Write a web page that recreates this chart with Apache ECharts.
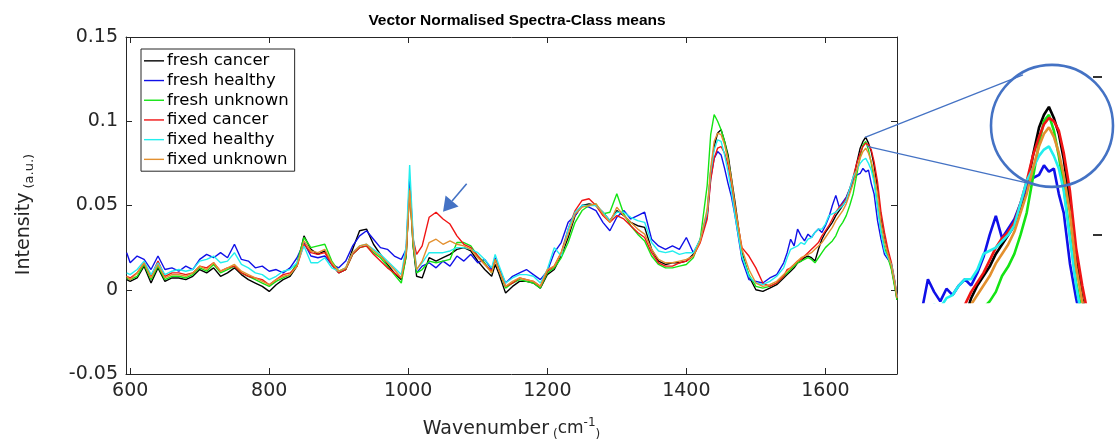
<!DOCTYPE html>
<html><head><meta charset="utf-8">
<script src="https://cdn.jsdelivr.net/npm/echarts@6/dist/echarts.min.js"></script>
<style>html,body{margin:0;padding:0;background:#fff}#c{width:1115px;height:446px}</style>
</head><body><div id="c"></div><script>
const wavenumbers = [
 595,600,610,620,630,640,650,660,670,680,
 690,700,710,720,730,740,750,760,770,780,
 790,800,810,820,830,840,850,860,870,880,
 890,900,910,920,930,940,950,960,970,980,
 990,997,1002,1007,1012,1020,1030,1040,1050,1060,
 1070,1080,1090,1100,1110,1120,1125,1130,1140,1150,
 1160,1170,1180,1190,1200,1210,1220,1230,1240,1250,
 1260,1270,1280,1290,1300,1310,1320,1330,1340,1350,
 1360,1370,1380,1390,1400,1410,1420,1430,1435,1440,
 1445,1450,1455,1460,1465,1470,1480,1490,1500,1510,
 1520,1530,1540,1545,1550,1555,1560,1565,1570,1575,
 1580,1585,1590,1595,1600,1605,1610,1615,1620,1625,
 1630,1635,1640,1645,1650,1654,1658,1662,1666,1670,
 1675,1680,1685,1690,1695,1700,1703];

const freshCancer = [
 0.006,0.005,0.007,0.014,0.004,0.013,0.005,0.007,0.007,0.006,
 0.008,0.012,0.010,0.013,0.008,0.010,0.013,0.009,0.006,0.004,
 0.002,-0.001,0.003,0.006,0.008,0.014,0.032,0.024,0.021,0.023,
 0.015,0.010,0.012,0.024,0.035,0.036,0.027,0.021,0.015,0.010,
 0.006,0.020,0.062,0.026,0.008,0.007,0.019,0.017,0.019,0.021,
 0.024,0.025,0.023,0.017,0.012,0.008,0.015,0.010,-0.002,0.002,
 0.005,0.005,0.004,0.001,0.009,0.012,0.020,0.031,0.044,0.050,
 0.051,0.050,0.046,0.041,0.047,0.044,0.040,0.038,0.037,0.024,
 0.017,0.015,0.016,0.016,0.017,0.021,0.030,0.045,0.070,0.085,
 0.093,0.095,0.088,0.080,0.066,0.052,0.022,0.008,0.000,-0.001,
 0.001,0.003,0.007,0.009,0.011,0.013,0.016,0.017,0.019,0.020,
 0.019,0.017,0.024,0.030,0.034,0.037,0.040,0.044,0.047,0.050,
 0.053,0.059,0.065,0.075,0.084,0.088,0.0905,0.087,0.082,0.074,
 0.060,0.042,0.030,0.021,0.013,0.002,-0.006];

const freshHealthy = [
 0.022,0.016,0.020,0.018,0.012,0.020,0.012,0.013,0.011,0.014,
 0.012,0.018,0.021,0.019,0.022,0.019,0.027,0.018,0.017,0.013,
 0.014,0.011,0.012,0.010,0.013,0.019,0.028,0.020,0.019,0.020,
 0.015,0.013,0.017,0.026,0.032,0.035,0.030,0.025,0.024,0.020,
 0.018,0.024,0.066,0.030,0.010,0.014,0.016,0.013,0.017,0.014,
 0.020,0.017,0.021,0.016,0.018,0.012,0.019,0.013,0.004,0.008,
 0.010,0.012,0.009,0.006,0.011,0.022,0.028,0.040,0.044,0.050,
 0.049,0.047,0.040,0.035,0.043,0.047,0.042,0.044,0.046,0.030,
 0.026,0.024,0.026,0.024,0.031,0.022,0.029,0.044,0.066,0.078,
 0.082,0.080,0.072,0.063,0.055,0.044,0.018,0.006,0.005,0.004,
 0.007,0.009,0.016,0.022,0.030,0.026,0.036,0.032,0.029,0.033,
 0.031,0.034,0.036,0.034,0.038,0.043,0.050,0.056,0.049,0.052,
 0.055,0.060,0.065,0.068,0.069,0.072,0.070,0.071,0.063,0.057,
 0.041,0.030,0.021,0.018,0.015,0.004,-0.004];

const freshUnknown = [
 0.007,0.006,0.008,0.015,0.006,0.014,0.006,0.008,0.008,0.007,
 0.009,0.013,0.011,0.015,0.010,0.012,0.014,0.010,0.008,0.006,
 0.004,0.002,0.005,0.007,0.009,0.016,0.031,0.025,0.026,0.027,
 0.017,0.011,0.012,0.021,0.025,0.026,0.022,0.019,0.014,0.009,
 0.004,0.020,0.060,0.026,0.010,0.012,0.017,0.016,0.017,0.018,
 0.028,0.028,0.026,0.020,0.016,0.010,0.018,0.012,0.001,0.004,
 0.006,0.005,0.004,0.001,0.010,0.013,0.019,0.028,0.040,0.047,
 0.050,0.051,0.045,0.046,0.057,0.045,0.038,0.033,0.029,0.020,
 0.015,0.013,0.013,0.014,0.015,0.019,0.030,0.062,0.092,0.104,
 0.100,0.095,0.088,0.078,0.064,0.048,0.020,0.009,0.002,0.001,
 0.002,0.004,0.008,0.010,0.012,0.014,0.016,0.017,0.018,0.019,
 0.018,0.016,0.019,0.022,0.025,0.027,0.029,0.032,0.037,0.040,
 0.044,0.050,0.057,0.068,0.079,0.086,0.088,0.083,0.075,0.065,
 0.050,0.035,0.025,0.019,0.012,0.001,-0.006];

const fixedCancer = [
 0.008,0.007,0.010,0.016,0.008,0.017,0.008,0.010,0.010,0.009,
 0.010,0.014,0.013,0.016,0.011,0.013,0.014,0.010,0.008,0.007,
 0.006,0.003,0.006,0.009,0.010,0.014,0.027,0.022,0.021,0.022,
 0.015,0.010,0.012,0.021,0.025,0.026,0.021,0.017,0.013,0.010,
 0.007,0.022,0.060,0.030,0.021,0.026,0.043,0.046,0.042,0.039,
 0.032,0.027,0.025,0.020,0.015,0.011,0.018,0.012,0.002,0.004,
 0.007,0.006,0.005,0.002,0.011,0.014,0.022,0.036,0.047,0.053,
 0.054,0.050,0.044,0.040,0.044,0.042,0.038,0.034,0.031,0.022,
 0.016,0.014,0.014,0.016,0.017,0.020,0.028,0.042,0.065,0.078,
 0.084,0.085,0.081,0.074,0.062,0.048,0.025,0.020,0.013,0.004,
 0.002,0.004,0.008,0.012,0.013,0.015,0.017,0.018,0.020,0.022,
 0.024,0.026,0.028,0.032,0.035,0.038,0.042,0.046,0.049,0.051,
 0.054,0.060,0.067,0.075,0.081,0.085,0.087,0.086,0.083,0.076,
 0.064,0.046,0.034,0.024,0.016,0.005,-0.004];

const fixedHealthy = [
 0.010,0.009,0.012,0.017,0.009,0.016,0.009,0.011,0.012,0.011,
 0.012,0.017,0.018,0.020,0.016,0.017,0.022,0.015,0.013,0.010,
 0.009,0.006,0.008,0.011,0.012,0.016,0.026,0.016,0.016,0.019,
 0.013,0.011,0.013,0.022,0.026,0.027,0.024,0.021,0.017,0.013,
 0.009,0.026,0.074,0.032,0.012,0.016,0.022,0.022,0.022,0.023,
 0.025,0.025,0.024,0.022,0.018,0.013,0.021,0.015,0.004,0.007,
 0.009,0.009,0.008,0.004,0.012,0.025,0.020,0.036,0.046,0.050,
 0.050,0.050,0.046,0.041,0.046,0.046,0.043,0.041,0.040,0.028,
 0.023,0.022,0.023,0.021,0.022,0.022,0.030,0.046,0.070,0.083,
 0.089,0.088,0.080,0.070,0.058,0.044,0.020,0.008,0.004,0.003,
 0.005,0.008,0.013,0.019,0.024,0.025,0.026,0.028,0.027,0.030,
 0.031,0.034,0.036,0.036,0.039,0.044,0.045,0.046,0.048,0.050,
 0.053,0.060,0.067,0.071,0.075,0.077,0.078,0.075,0.071,0.064,
 0.049,0.034,0.023,0.019,0.015,0.004,-0.004];

const fixedUnknown = [
 0.008,0.006,0.010,0.016,0.007,0.015,0.007,0.009,0.009,0.008,
 0.010,0.014,0.012,0.016,0.011,0.013,0.015,0.011,0.009,0.007,
 0.005,0.003,0.006,0.008,0.009,0.014,0.029,0.023,0.022,0.024,
 0.016,0.011,0.013,0.022,0.026,0.027,0.023,0.020,0.016,0.012,
 0.007,0.022,0.059,0.028,0.012,0.017,0.028,0.030,0.027,0.029,
 0.027,0.026,0.024,0.019,0.015,0.010,0.018,0.012,0.002,0.005,
 0.007,0.006,0.005,0.002,0.012,0.014,0.022,0.033,0.045,0.049,
 0.050,0.051,0.045,0.040,0.049,0.044,0.040,0.036,0.033,0.024,
 0.018,0.016,0.016,0.017,0.018,0.020,0.029,0.048,0.072,0.088,
 0.093,0.092,0.086,0.077,0.065,0.050,0.024,0.012,0.004,0.002,
 0.003,0.005,0.009,0.011,0.013,0.015,0.017,0.019,0.020,0.021,
 0.022,0.024,0.026,0.028,0.031,0.034,0.037,0.041,0.044,0.047,
 0.051,0.057,0.063,0.071,0.078,0.082,0.084,0.081,0.076,0.069,
 0.057,0.040,0.029,0.021,0.014,0.003,-0.005];

const seriesNames = ['fresh cancer','fresh healthy','fresh unknown','fixed cancer','fixed healthy','fixed unknown'];
const seriesValues = [freshCancer, freshHealthy, freshUnknown, fixedCancer, fixedHealthy, fixedUnknown];
const seriesColors = ['#000000','#1010E8','#14E414','#F01414','#22EEEE','#E3902F'];
const xTickValues = [600, 800, 1000, 1200, 1400, 1600];
const insetTickValues = [0.05, 0.1];

const chart = echarts.init(document.getElementById('c'), null, {renderer: 'canvas'});
const axisColor = '#262626';
const tickFont = {fontFamily: 'DejaVu Sans', fontSize: 19, color: axisColor};

const series = [];
seriesValues.forEach((vals, k) => {
  series.push({
    name: seriesNames[k], type: 'line', xAxisIndex: 0, yAxisIndex: 0,
    data: wavenumbers.map((x, i) => [x, vals[i]]),
    symbol: 'none', showSymbol: false, clip: true,
    lineStyle: {width: 1.4, color: seriesColors[k]}, itemStyle: {color: seriesColors[k]},
    z: 2 + k * 0.01
  });
});
seriesValues.forEach((vals, k) => {
  series.push({
    name: seriesNames[k], type: 'line', xAxisIndex: 2, yAxisIndex: 2,
    data: wavenumbers.map((x, i) => [x, vals[i]]),
    symbol: 'none', showSymbol: false, clip: true,
    lineStyle: {width: 2.6, color: seriesColors[k]}, itemStyle: {color: seriesColors[k]},
    z: 2 + k * 0.01
  });
});

const option = {
  animation: false,
  backgroundColor: '#ffffff',
  title: {
    text: 'Vector Normalised Spectra-Class means',
    left: 512, top: 8, textAlign: 'center',
    textStyle: {fontFamily: 'Liberation Sans, sans-serif', fontWeight: 'bold', fontSize: 15.5, color: '#000'}
  },
  legend: {
    data: seriesNames, orient: 'vertical', left: 141, top: 49,
    icon: 'rect', padding: [2, 6, 2, 3], itemGap: 0, itemWidth: 20, itemHeight: 1.4,
    backgroundColor: '#ffffff', borderColor: axisColor, borderWidth: 1, borderRadius: 0,
    selectedMode: false,
    textStyle: {fontFamily: 'DejaVu Sans', fontSize: 16.5, color: '#000', lineHeight: 19.7, padding: [0, 0, 0, -2]}
  },
  grid: [
    {left: 126, top: 37, width: 771, height: 342},
    {left: 923, top: 61, width: 179, height: 241}
  ],
  xAxis: [
    {gridIndex: 0, type: 'value', min: 594, max: 1703, position: 'bottom',
     axisLine: {show: true, onZero: false, lineStyle: {color: axisColor, width: 1}},
     axisTick: {show: true, inside: true, length: 6, customValues: xTickValues, lineStyle: {color: axisColor}},
     axisLabel: {show: true, customValues: xTickValues, margin: 8, formatter: v => String(v), ...tickFont},
     splitLine: {show: false},
     name: '{a|Wavenumber}{p|(}{b|cm}{s|-1}{p|)}', nameLocation: 'middle', nameGap: 43,
     nameTextStyle: {rich: {
       a: {fontFamily: 'DejaVu Sans', fontSize: 19, color: axisColor, lineHeight: 24, padding: [0, 4, 0, 0]},
       p: {fontFamily: 'DejaVu Sans', fontSize: 12, color: axisColor, verticalAlign: 'bottom', lineHeight: 14},
       b: {fontFamily: 'DejaVu Sans', fontSize: 17, color: axisColor, lineHeight: 22},
       s: {fontFamily: 'DejaVu Sans', fontSize: 12, color: axisColor, verticalAlign: 'top', lineHeight: 12}
     }}},
    {gridIndex: 0, type: 'value', min: 594, max: 1703, position: 'top',
     axisLine: {show: true, onZero: false, lineStyle: {color: axisColor, width: 1}},
     axisTick: {show: true, inside: true, length: 6, customValues: xTickValues, lineStyle: {color: axisColor}},
     axisLabel: {show: false}, splitLine: {show: false}},
    {gridIndex: 1, type: 'value', min: 1556, max: 1701, show: false, splitLine: {show: false}}
  ],
  yAxis: [
    {gridIndex: 0, type: 'value', min: -0.05, max: 0.15, interval: 0.05, position: 'left',
     axisLine: {show: true, onZero: false, lineStyle: {color: axisColor, width: 1}},
     axisTick: {show: true, inside: true, length: 6, lineStyle: {color: axisColor}},
     axisLabel: {show: true, margin: 8, ...tickFont},
     splitLine: {show: false},
     name: '{a|Intensity}{p|(a.u.)}', nameLocation: 'middle', nameGap: 90, nameRotate: 90,
     nameTextStyle: {padding: [0, 18, 0, 0], rich: {
       a: {fontFamily: 'DejaVu Sans', fontSize: 19, color: axisColor, lineHeight: 24, padding: [0, 4, 0, 0]},
       p: {fontFamily: 'DejaVu Sans', fontSize: 13, color: axisColor, verticalAlign: 'bottom', lineHeight: 15}
     }}},
    {gridIndex: 0, type: 'value', min: -0.05, max: 0.15, interval: 0.05, position: 'right',
     axisLine: {show: true, onZero: false, lineStyle: {color: axisColor, width: 1}},
     axisTick: {show: true, inside: true, length: 6, lineStyle: {color: axisColor}},
     axisLabel: {show: false}, splitLine: {show: false}},
    {gridIndex: 1, type: 'value', min: 0.0288, max: 0.105, position: 'right',
     axisLine: {show: false, onZero: false},
     axisTick: {show: true, inside: true, length: 9, customValues: insetTickValues, lineStyle: {color: '#333', width: 2}},
     axisLabel: {show: false}, splitLine: {show: false}}
  ],
  series: series
};
chart.setOption(option);

// annotations: arrow, zoom connector lines and magnifier circle
const toMain = p => chart.convertToPixel({seriesIndex: 0}, p);
const toInset = p => chart.convertToPixel({seriesIndex: 6}, p);
const annoColor = '#4472C4';
const tip = toMain([1050, 0.0463]), tail = toMain([1084, 0.0629]);
const dx = tip[0] - tail[0], dy = tip[1] - tail[1], len = Math.hypot(dx, dy);
const ux = dx / len, uy = dy / len, headLen = 14, headHalf = 8.5;
const bx = tip[0] - ux * headLen, by = tip[1] - uy * headLen;
const c = toInset([1660.5, 0.0845]);
const s1 = toMain([1657, 0.0904]), s2 = toMain([1660, 0.0851]);
const e1 = toInset([1637, 0.1006]), e2 = toInset([1641, 0.0664]);
chart.setOption({graphic: [
  {type: 'line', z: 100, shape: {x1: tail[0], y1: tail[1], x2: bx, y2: by}, style: {stroke: annoColor, lineWidth: 1.6}},
  {type: 'polygon', z: 100, shape: {points: [tip, [bx - uy * headHalf, by + ux * headHalf], [bx + uy * headHalf, by - ux * headHalf]]}, style: {fill: annoColor}},
  {type: 'line', z: 100, shape: {x1: s1[0], y1: s1[1], x2: e1[0], y2: e1[1]}, style: {stroke: annoColor, lineWidth: 1.2}},
  {type: 'line', z: 100, shape: {x1: s2[0], y1: s2[1], x2: e2[0], y2: e2[1]}, style: {stroke: annoColor, lineWidth: 1.2}},
  {type: 'circle', z: 100, shape: {cx: c[0], cy: c[1], r: 61}, style: {fill: 'none', stroke: annoColor, lineWidth: 2.6}}
]});
</script></body></html>
